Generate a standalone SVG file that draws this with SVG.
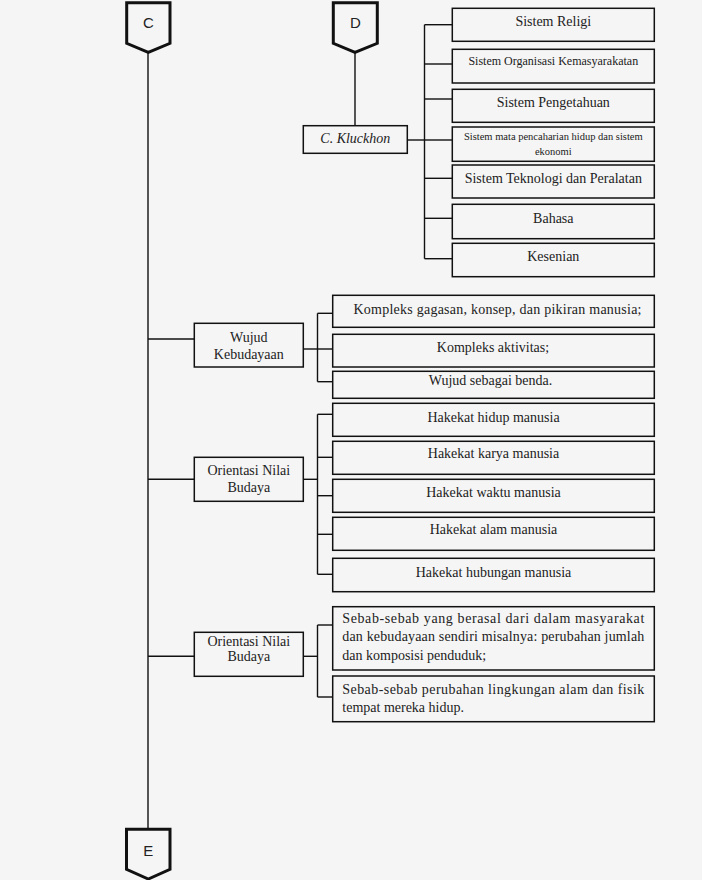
<svg xmlns="http://www.w3.org/2000/svg" width="702" height="880" viewBox="0 0 702 880">
<style>
.bg{fill:#f5f5f5}
.box{fill:none;stroke:#111;stroke-width:1.5}
.conn{fill:none;stroke:#111;stroke-width:1.4}
.pent{fill:#f5f5f5;stroke:#111;stroke-width:3;stroke-linejoin:miter}
.t{font-family:"Liberation Serif","Times New Roman",serif;font-size:14px;fill:#222;text-anchor:middle}
.tl{font-family:"Liberation Serif","Times New Roman",serif;font-size:14px;fill:#222}
.ts{font-size:12px}
.tx{font-size:10.5px}
.lab{font-family:"Liberation Sans",Arial,sans-serif;font-size:15px;fill:#222;text-anchor:middle}
</style>
<rect class="bg" x="0" y="0" width="702" height="880"/>

<g id="connectors">
  <line class="conn" x1="148" y1="52" x2="148" y2="829"/>
  <line class="conn" x1="355" y1="52" x2="355" y2="126"/>
  <line class="conn" x1="407" y1="140" x2="424.5" y2="140"/>
  <line class="conn" x1="424.5" y1="24.7" x2="424.5" y2="258.7"/>
  <line class="conn" x1="424.5" y1="24.7" x2="452" y2="24.7"/>
  <line class="conn" x1="424.5" y1="64" x2="452" y2="64"/>
  <line class="conn" x1="424.5" y1="99" x2="452" y2="99"/>
  <line class="conn" x1="424.5" y1="140" x2="452" y2="140"/>
  <line class="conn" x1="424.5" y1="178.3" x2="452" y2="178.3"/>
  <line class="conn" x1="424.5" y1="218.3" x2="452" y2="218.3"/>
  <line class="conn" x1="424.5" y1="258.7" x2="452" y2="258.7"/>

  <line class="conn" x1="148" y1="339" x2="194" y2="339"/>
  <line class="conn" x1="303" y1="349" x2="317.5" y2="349"/>
  <line class="conn" x1="317.5" y1="313.3" x2="317.5" y2="381.7"/>
  <line class="conn" x1="317.5" y1="313.3" x2="333" y2="313.3"/>
  <line class="conn" x1="317.5" y1="349" x2="333" y2="349"/>
  <line class="conn" x1="317.5" y1="381.7" x2="333" y2="381.7"/>

  <line class="conn" x1="148" y1="479.3" x2="194" y2="479.3"/>
  <line class="conn" x1="303" y1="479.3" x2="317.5" y2="479.3"/>
  <line class="conn" x1="317.5" y1="414.3" x2="317.5" y2="574.3"/>
  <line class="conn" x1="317.5" y1="414.3" x2="333" y2="414.3"/>
  <line class="conn" x1="317.5" y1="457.3" x2="333" y2="457.3"/>
  <line class="conn" x1="317.5" y1="495.7" x2="333" y2="495.7"/>
  <line class="conn" x1="317.5" y1="534.3" x2="333" y2="534.3"/>
  <line class="conn" x1="317.5" y1="574.3" x2="333" y2="574.3"/>

  <line class="conn" x1="148" y1="656.3" x2="194" y2="656.3"/>
  <line class="conn" x1="303" y1="656.3" x2="317.5" y2="656.3"/>
  <line class="conn" x1="317.5" y1="625" x2="317.5" y2="697"/>
  <line class="conn" x1="317.5" y1="625" x2="333" y2="625"/>
  <line class="conn" x1="317.5" y1="697" x2="333" y2="697"/>
</g>

<g id="C">
  <path class="pent" d="M126.7,2.7 H170 V43.3 L148.3,52.3 L126.7,43.3 Z"/>
  <text class="lab" x="148.3" y="28">C</text>
</g>
<g id="D">
  <path class="pent" d="M333.3,2.7 H377.3 V43.3 L355,52.3 L333.3,43.3 Z"/>
  <text class="lab" x="355.3" y="28">D</text>
</g>
<g id="E">
  <path class="pent" d="M126.5,829.3 H170 V869.3 L148.3,879 L126.5,869.3 Z"/>
  <text class="lab" x="148.3" y="856">E</text>
</g>

<g id="kluckhon">
  <rect class="box" x="303.3" y="125.7" width="104" height="27.6"/>
  <text class="t" x="355.3" y="142.7" font-style="italic" font-size="13.5">C. Kluckhon</text>
</g>

<g id="religi"><rect class="box" x="452.3" y="8.3" width="202" height="33"/><text class="t" x="553.3" y="26">Sistem Religi</text></g>
<g id="organisasi"><rect class="box" x="452.3" y="49.3" width="202" height="33.7"/><text class="t ts" x="553.3" y="65">Sistem Organisasi Kemasyarakatan</text></g>
<g id="pengetahuan"><rect class="box" x="452.3" y="89.3" width="202" height="33"/><text class="t" x="553.3" y="107.3">Sistem Pengetahuan</text></g>
<g id="mata"><rect class="box" x="452.3" y="127" width="202" height="34.3"/><text class="t tx" x="553.3" y="140">Sistem mata pencaharian hidup dan sistem</text><text class="t tx" x="553.3" y="155">ekonomi</text></g>
<g id="teknologi"><rect class="box" x="452.3" y="165" width="202" height="33"/><text class="t" x="553.3" y="183.3">Sistem Teknologi dan Peralatan</text></g>
<g id="bahasa"><rect class="box" x="452.3" y="204.3" width="202" height="34.4"/><text class="t" x="553.3" y="223.3">Bahasa</text></g>
<g id="kesenian"><rect class="box" x="452.3" y="243.3" width="202" height="33.4"/><text class="t" x="553.3" y="260.7">Kesenian</text></g>

<g id="wujud">
  <rect class="box" x="194.3" y="323.3" width="109" height="43.7"/>
  <text class="t" x="248.8" y="342.3">Wujud</text>
  <text class="t" x="248.8" y="359">Kebudayaan</text>
</g>
<g id="gagasan"><rect class="box" x="332.7" y="295.3" width="321.6" height="32"/><text class="t" x="497.5" y="314" textLength="288" lengthAdjust="spacing">Kompleks gagasan, konsep, dan pikiran manusia;</text></g>
<g id="aktivitas"><rect class="box" x="332.7" y="334.3" width="321.6" height="32.7"/><text class="t" x="493" y="351.7">Kompleks aktivitas;</text></g>
<g id="benda"><rect class="box" x="332.7" y="371.3" width="321.6" height="27"/><text class="t" x="490.5" y="385">Wujud sebagai benda.</text></g>

<g id="orientasi1">
  <rect class="box" x="194.3" y="457.3" width="109" height="44"/>
  <text class="t" x="248.8" y="475">Orientasi Nilai</text>
  <text class="t" x="248.8" y="491.7">Budaya</text>
</g>
<g id="hidup"><rect class="box" x="332.7" y="403.3" width="321.6" height="33"/><text class="t" x="493.5" y="421.7">Hakekat hidup manusia</text></g>
<g id="karya"><rect class="box" x="332.7" y="441.3" width="321.6" height="33"/><text class="t" x="493.5" y="458.3">Hakekat karya manusia</text></g>
<g id="waktu"><rect class="box" x="332.7" y="479.3" width="321.6" height="33"/><text class="t" x="493.5" y="496.7">Hakekat waktu  manusia</text></g>
<g id="alam"><rect class="box" x="332.7" y="517.3" width="321.6" height="33"/><text class="t" x="493.5" y="534.3">Hakekat alam manusia</text></g>
<g id="hubungan"><rect class="box" x="332.7" y="558.3" width="321.6" height="33.4"/><text class="t" x="493.5" y="576.7">Hakekat hubungan  manusia</text></g>

<g id="orientasi2">
  <rect class="box" x="194.3" y="632.3" width="109" height="44"/>
  <text class="t" x="248.8" y="645.7">Orientasi Nilai</text>
  <text class="t" x="248.8" y="661">Budaya</text>
</g>
<g id="sebab1">
  <rect class="box" x="332.7" y="606.7" width="321.6" height="63.3"/>
  <text class="tl" x="342.3" y="623" textLength="302" lengthAdjust="spacing">Sebab-sebab yang berasal dari dalam masyarakat</text>
  <text class="tl" x="342.3" y="641" textLength="302" lengthAdjust="spacing">dan kebudayaan sendiri misalnya: perubahan jumlah</text>
  <text class="tl" x="342.3" y="660">dan komposisi penduduk;</text>
</g>
<g id="sebab2">
  <rect class="box" x="332.7" y="676" width="321.6" height="45.7"/>
  <text class="tl" x="342.3" y="694" textLength="302" lengthAdjust="spacing">Sebab-sebab perubahan lingkungan alam dan fisik</text>
  <text class="tl" x="342.3" y="712">tempat mereka hidup.</text>
</g>
</svg>
